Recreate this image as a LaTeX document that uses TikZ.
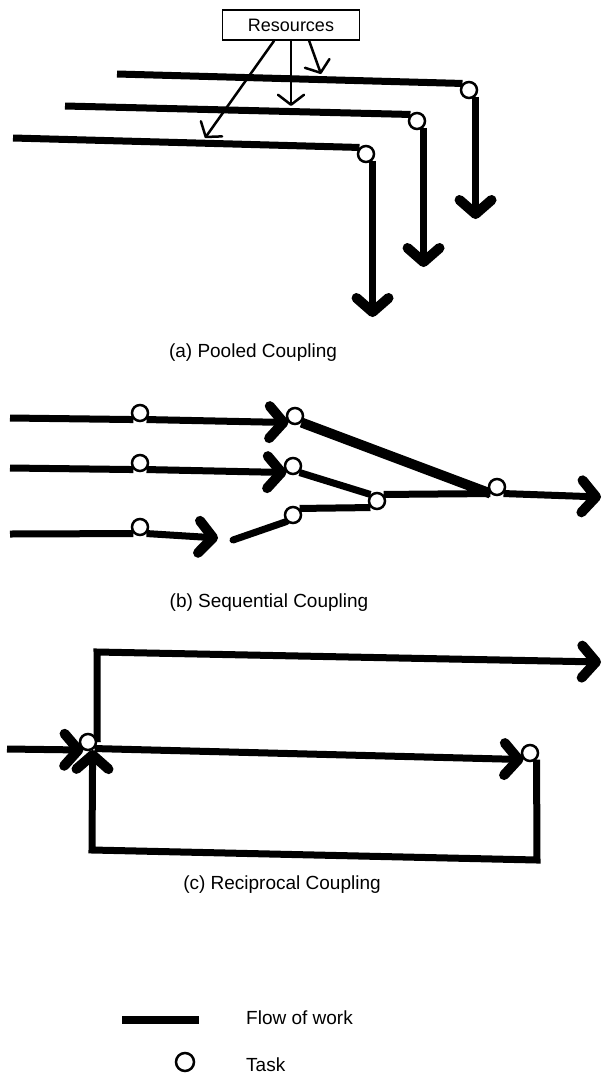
\documentclass[tikz,border=0pt]{standalone}
\usepackage{fontspec}
\setmainfont{Liberation Sans}
\usetikzlibrary{arrows.meta, backgrounds}

\begin{document}
\begin{tikzpicture}[
    x=1pt, y=-1pt,
    font=\fontsize{19pt}{23pt}\selectfont,
    bigtip/.tip={Straight Barb[length=14pt, width=32pt, line width=10pt, round]},
    smalltip/.tip={Straight Barb[length=10pt, width=26pt, line width=2.5pt, round]},
    flow/.style={line width=7pt},
    heavy/.style={line width=10pt},
    feed/.style={line width=2.5pt, -smalltip},
    task/.style={circle, draw, fill=white, line width=2.5pt, minimum size=16pt, inner sep=0pt},
    resbox/.style={rectangle, draw, line width=1.5pt, minimum width=137pt, minimum height=30pt, inner sep=0pt, font=\fontsize{18pt}{22pt}\selectfont},
    label/.style={inner sep=0pt}
]
\useasboundingbox (0,0) rectangle (604,1077);

% 1. Pooled coupling
\node[resbox] (res) at (291,25) {Resources};
\node[task] (p1) at (469,90) {};
\node[task] (p2) at (417,121) {};
\node[task] (p3) at (366,154) {};
\coordinate (a1) at (117,74);
\coordinate (a2) at (65,106);
\coordinate (a3) at (13,138);
\coordinate (e1) at (p1.south east |- 0,219);
\coordinate (e2) at (p2.south east |- 0,267);
\coordinate (e3) at (p3.south east |- 0,317);
\coordinate (f1) at (321,74);
\coordinate (f2) at (291,106);
\coordinate (f3) at (205,138);
\begin{scope}[on background layer]
\draw[flow] (a1) -- (p1.north west);
\draw[flow] (a2) -- (p2.north west);
\draw[flow] (a3) -- (p3.north west);
\draw[flow, -bigtip] (p1.south east) -- (e1);
\draw[flow, -bigtip] (p2.south east) -- (e2);
\draw[flow, -bigtip] (p3.south east) -- (e3);
\end{scope}
\draw[feed] (res.-41) -- (f1);
\draw[feed] (res.south) -- (f2);
\draw[feed] (res.-137) -- (f3);
\node[label] (capa) at (253,353) {(a) Pooled Coupling};

% 2. Sequential coupling
\node[task] (u1) at (140,413) {};
\node[task] (u2) at (140,463) {};
\node[task] (u3) at (140,527) {};
\node[task] (v1) at (295,416) {};
\node[task] (v2) at (293,466) {};
\node[task] (v3) at (293,515) {};
\node[task] (w) at (377,501) {};
\node[task] (z) at (497,487) {};
\coordinate (i1) at (10,418);
\coordinate (i2) at (10,468);
\coordinate (i3) at (10,534);
\coordinate (h3) at (218,538);
\coordinate (g3) at (233,540);
\coordinate (o) at (601,497);
\begin{scope}[on background layer]
\draw[flow] (i1) -- (u1.south west);
\draw[flow, -bigtip] (u1.south east) -- (v1.south west);
\draw[flow] (i2) -- (u2.south west);
\draw[flow, -bigtip] (u2.south east) -- (v2.south west);
\draw[flow] (i3) -- (u3.south west);
\draw[flow, -bigtip] (u3.south east) -- (h3);
\draw[flow, line cap=round] (g3) -- (v3.south west);
\draw[heavy] (v1.south east) -- (z.south west);
\draw[flow] (v2.south east) -- (w.north west);
\draw[flow] (v3.north east) -- (w.south west);
\draw[flow] (w.north east) -- (z.south west);
\draw[flow, -bigtip] (z.south east) -- (o);
\end{scope}
\node[label] (capb) at (269,603) {(b) Sequential Coupling};

% 3. Reciprocal coupling
\node[task] (r1) at (88,742) {};
\node[task] (r2) at (530,753) {};
\coordinate (cin) at (7,749);
\coordinate (k1) at (97,652);
\coordinate (cout) at (601,662);
\coordinate (k2) at (537,860);
\coordinate (k3) at (92,850);
\begin{scope}[on background layer]
\draw[flow, -bigtip] (cin) -- (r1.240);
\draw[flow, -bigtip] (r1.east) -- (k1) -- (cout);
\draw[flow, -bigtip] (r1.south east) -- (r2.south west);
\draw[flow, -bigtip] (r2.south east) -- (k2) -- (k3) -- (r1.300);
\end{scope}
\node[label] (capc) at (282,885) {(c) Reciprocal Coupling};

% 4. Legend
\coordinate (l1) at (122,1020);
\coordinate (l2) at (199,1020);
\draw[flow, line width=8pt] (l1) -- (l2);
\node[task, minimum size=18pt] (lt) at (185,1062) {};
\node[label, anchor=west] (lflow) at (246,1018) {Flow of work};
\node[label, anchor=west] (ltask) at (246,1065) {Task};

\end{tikzpicture}
\end{document}
